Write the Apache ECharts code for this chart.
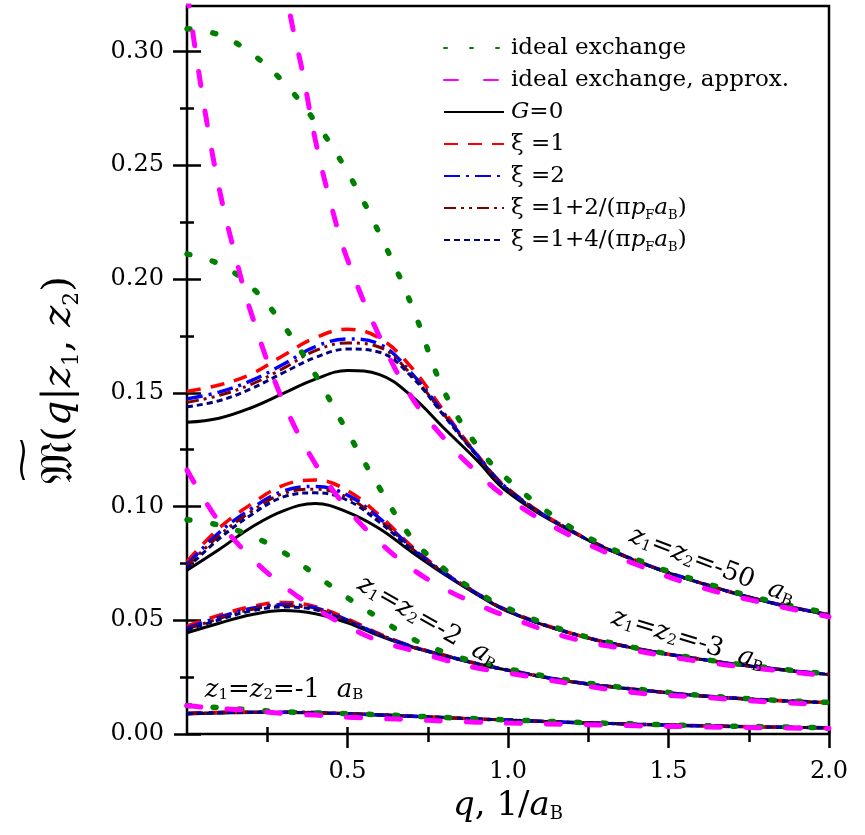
<!DOCTYPE html>
<html>
<head>
<meta charset="utf-8">
<script src="https://cdn.jsdelivr.net/npm/echarts@6/dist/echarts.min.js"></script>
<style>
html,body{margin:0;padding:0;background:#fff;}
#chart{width:865px;height:835px;}
</style>
</head>
<body>
<div id="chart"></div>
<script>
// q grid shared by the G=0 / xi curves and the ideal-exchange curves
var qGrid = [0, 0.1, 0.2, 0.3, 0.4, 0.5, 0.6, 0.7, 0.8, 0.9, 1.0, 1.2, 1.4, 1.6, 1.8, 2.0];

// z1=z2=-50 aB
var g0_50    = [0.1370, 0.1388, 0.1434, 0.1497, 0.1560, 0.1598, 0.1580, 0.1485, 0.1345, 0.1208, 0.1062, 0.0888, 0.0760, 0.0663, 0.0583, 0.0523];
var xi1_50   = [0.1506, 0.1534, 0.1582, 0.1664, 0.1742, 0.1779, 0.1740, 0.1610, 0.1420, 0.1235, 0.1078, 0.0892, 0.0762, 0.0664, 0.0584, 0.0524];
var xi2_50   = [0.1473, 0.1503, 0.1553, 0.1625, 0.1703, 0.1736, 0.1713, 0.1585, 0.1410, 0.1232, 0.1076, 0.0891, 0.0762, 0.0664, 0.0584, 0.0524];
var xiA_50   = [0.1458, 0.1488, 0.1537, 0.1607, 0.1685, 0.1719, 0.1700, 0.1578, 0.1405, 0.1230, 0.1075, 0.0891, 0.0761, 0.0664, 0.0584, 0.0524];
var xiB_50   = [0.1438, 0.1465, 0.1518, 0.1588, 0.1655, 0.1692, 0.1678, 0.1570, 0.1400, 0.1228, 0.1074, 0.0890, 0.0761, 0.0664, 0.0584, 0.0524];
var ideal_50 = [0.3100, 0.3073, 0.2992, 0.2866, 0.2690, 0.2470, 0.2198, 0.1884, 0.1510, 0.1274, 0.1118, 0.0905, 0.0768, 0.0670, 0.0590, 0.0532];
var approxQ_50 = [0.30, 0.33, 0.36, 0.40, 0.45, 0.50, 0.60, 0.70, 0.80, 0.90, 1.00, 1.20, 1.40, 1.60, 1.80, 2.00];
var approx_50  = [0.333, 0.310, 0.291, 0.261, 0.232, 0.2085, 0.1746, 0.1480, 0.1300, 0.1155, 0.1035, 0.0868, 0.0745, 0.0645, 0.0575, 0.0515];

// z1=z2=-3 aB
var g0_3    = [0.0720, 0.0811, 0.0908, 0.0981, 0.1013, 0.0975, 0.0902, 0.0800, 0.0703, 0.0616, 0.0538, 0.0440, 0.0375, 0.0328, 0.0290, 0.0261];
var xi1_3   = [0.0758, 0.0905, 0.1010, 0.1093, 0.1117, 0.1070, 0.0960, 0.0825, 0.0712, 0.0622, 0.0542, 0.0442, 0.0376, 0.0329, 0.0291, 0.0262];
var xi2_3   = [0.0745, 0.0885, 0.0990, 0.1068, 0.1088, 0.1050, 0.0948, 0.0820, 0.0710, 0.0621, 0.0541, 0.0442, 0.0376, 0.0329, 0.0291, 0.0262];
var xiA_3   = [0.0738, 0.0872, 0.0978, 0.1057, 0.1076, 0.1040, 0.0940, 0.0816, 0.0708, 0.0620, 0.0540, 0.0441, 0.0376, 0.0329, 0.0291, 0.0262];
var xiB_3   = [0.0728, 0.0858, 0.0963, 0.1042, 0.1060, 0.1027, 0.0930, 0.0812, 0.0707, 0.0619, 0.0540, 0.0441, 0.0376, 0.0329, 0.0291, 0.0262];
var ideal_3 = [0.2110, 0.2066, 0.1966, 0.1797, 0.1579, 0.1327, 0.1081, 0.0862, 0.0727, 0.0628, 0.0552, 0.0445, 0.0378, 0.0330, 0.0293, 0.0264];
var approxQ_3 = [0, 0.05, 0.1, 0.15, 0.2, 0.3, 0.4, 0.5, 0.6, 0.7, 0.8, 0.9, 1.0, 1.2, 1.4, 1.6, 1.8, 2.0];
var approx_3  = [0.326, 0.279, 0.240, 0.2105, 0.185, 0.146, 0.1187, 0.099, 0.0843, 0.0727, 0.064, 0.0573, 0.0515, 0.0420, 0.0366, 0.0318, 0.0285, 0.0255];

// z1=z2=-2 aB
var g0_2    = [0.0445, 0.0487, 0.0524, 0.0543, 0.0529, 0.0489, 0.0431, 0.0382, 0.0345, 0.0310, 0.0280, 0.0229, 0.0195, 0.0167, 0.0149, 0.0137];
var xi1_2   = [0.0474, 0.0522, 0.0560, 0.0578, 0.0560, 0.0506, 0.0440, 0.0386, 0.0347, 0.0311, 0.0281, 0.0230, 0.0196, 0.0168, 0.0150, 0.0138];
var xi2_2   = [0.0466, 0.0513, 0.0552, 0.0569, 0.0554, 0.0501, 0.0437, 0.0385, 0.0346, 0.0311, 0.0281, 0.0230, 0.0196, 0.0168, 0.0150, 0.0138];
var xiA_2   = [0.0461, 0.0507, 0.0547, 0.0564, 0.0550, 0.0499, 0.0436, 0.0384, 0.0346, 0.0310, 0.0280, 0.0230, 0.0196, 0.0168, 0.0150, 0.0138];
var xiB_2   = [0.0457, 0.0502, 0.0541, 0.0558, 0.0546, 0.0497, 0.0435, 0.0384, 0.0345, 0.0310, 0.0280, 0.0230, 0.0196, 0.0168, 0.0150, 0.0138];
var ideal_2 = [0.0942, 0.0918, 0.0871, 0.0799, 0.0700, 0.0599, 0.0508, 0.0420, 0.0360, 0.0316, 0.0286, 0.0234, 0.0198, 0.0170, 0.0151, 0.0139];
var approxQ_2 = [0, 0.05, 0.1, 0.2, 0.3, 0.4, 0.5, 0.6, 0.7, 0.8, 0.9, 1.0, 1.2, 1.4, 1.6, 1.8, 2.0];
var approx_2  = [0.116, 0.104, 0.0934, 0.0775, 0.0652, 0.0553, 0.0473, 0.0408, 0.0368, 0.0327, 0.0291, 0.0268, 0.0221, 0.0181, 0.0162, 0.0142, 0.0129];

// z1=z2=-1 aB
var g0_1    = [0.0088, 0.0092, 0.0095, 0.0095, 0.0093, 0.0089, 0.0084, 0.0078, 0.0072, 0.0066, 0.0061, 0.0051, 0.0043, 0.0036, 0.0031, 0.0027];
var xi1_1   = [0.0091, 0.0095, 0.0097, 0.0097, 0.0094, 0.0090, 0.0084, 0.0078, 0.0072, 0.0066, 0.0061, 0.0051, 0.0043, 0.0036, 0.0031, 0.0027];
var xi2_1   = [0.0090, 0.0094, 0.0096, 0.0096, 0.0094, 0.0089, 0.0084, 0.0078, 0.0072, 0.0066, 0.0061, 0.0051, 0.0043, 0.0036, 0.0031, 0.0027];
var xiA_1   = [0.0090, 0.0094, 0.0096, 0.0096, 0.0093, 0.0089, 0.0084, 0.0078, 0.0072, 0.0066, 0.0061, 0.0051, 0.0043, 0.0036, 0.0031, 0.0027];
var xiB_1   = [0.0089, 0.0093, 0.0096, 0.0095, 0.0093, 0.0089, 0.0084, 0.0078, 0.0072, 0.0066, 0.0061, 0.0051, 0.0043, 0.0036, 0.0031, 0.0027];
var ideal_1 = [0.0125, 0.0116, 0.0106, 0.0098, 0.0093, 0.0089, 0.0085, 0.0079, 0.0073, 0.0067, 0.0062, 0.0052, 0.0044, 0.0037, 0.0032, 0.0028];
var approx_1 = [0.0125, 0.0112, 0.0103, 0.0090, 0.0083, 0.0074, 0.0068, 0.0063, 0.0057, 0.0052, 0.0048, 0.0042, 0.0036, 0.0031, 0.0027, 0.0024];

// ticks
var xMajorBottom = [0.5, 1.0, 1.5, 2.0];
var xMajorTop = [0.5, 1.0, 1.5];
var xMinor = [0.25, 0.75, 1.25, 1.75];
var xLabels = [0.5, 1.0, 1.5, 2.0];
var yMajor = [0, 0.05, 0.10, 0.15, 0.20, 0.25, 0.30];
var yMajorRight = [0.05, 0.10, 0.15, 0.20, 0.25, 0.30];
var yMinor = [0.025, 0.075, 0.125, 0.175, 0.225, 0.275];

var FONT = 'DejaVu Serif';

var legendText = {
  ideal: 'ideal exchange',
  approx: 'ideal exchange, approx.',
  G0: '{i|G}=0',
  xi1: 'ξ =1',
  xi2: 'ξ =2',
  xiA: 'ξ =1+2/(π{i|p}{s|F}{i|a}{s|B})',
  xiB: 'ξ =1+4/(π{i|p}{s|F}{i|a}{s|B})'
};

var styles = {
  G0:     {color: '#000000', width: 3, type: 'solid'},
  xi1:    {color: '#ff0000', width: 3.5, type: [14, 10]},
  xi2:    {color: '#0000ff', width: 3.5, type: [16, 6, 3, 6]},
  xiA:    {color: '#800000', width: 3, type: [12, 5, 3, 5, 3, 5]},
  xiB:    {color: '#000080', width: 3, type: [6, 4]},
  ideal:  {color: '#008000', width: 5.5, type: [3, 23], cap: 'round'},
  approx: {color: '#ff00ff', width: 5, type: [14, 26], cap: 'round'}
};

function pairs(q, v) {
  return q.map(function (x, i) { return [x, v[i]]; });
}

function line(name, q, v) {
  return {
    type: 'line',
    name: name,
    data: pairs(q, v),
    symbol: 'none',
    smooth: 0.4,
    clip: true,
    silent: true,
    color: styles[name].color,
    lineStyle: styles[name]
  };
}

var groups = [
  {g0: g0_50, xi1: xi1_50, xi2: xi2_50, xiA: xiA_50, xiB: xiB_50, ideal: ideal_50, aq: approxQ_50, approx: approx_50},
  {g0: g0_3, xi1: xi1_3, xi2: xi2_3, xiA: xiA_3, xiB: xiB_3, ideal: ideal_3, aq: approxQ_3, approx: approx_3},
  {g0: g0_2, xi1: xi1_2, xi2: xi2_2, xiA: xiA_2, xiB: xiB_2, ideal: ideal_2, aq: approxQ_2, approx: approx_2},
  {g0: g0_1, xi1: xi1_1, xi2: xi2_1, xiA: xiA_1, xiB: xiB_1, ideal: ideal_1, aq: qGrid, approx: approx_1}
];

var series = [];
groups.forEach(function (g) {
  series.push(line('G0', qGrid, g.g0));
  series.push(line('xi1', qGrid, g.xi1));
  series.push(line('xi2', qGrid, g.xi2));
  series.push(line('xiA', qGrid, g.xiA));
  series.push(line('xiB', qGrid, g.xiB));
  series.push(line('ideal', qGrid, g.ideal));
  series.push(line('approx', g.aq, g.approx));
});

var tickLine = {color: '#000', width: 2.5};
var noLine = {show: false};

function xAx(pos, offset, len, inside, vals, label) {
  return {
    type: 'value', min: 0, max: 2, position: pos, offset: offset,
    axisLine: noLine, splitLine: {show: false},
    axisTick: {show: true, inside: inside, length: len, customValues: vals, lineStyle: tickLine},
    axisLabel: label || {show: false}
  };
}
function yAx(pos, offset, len, inside, vals, label) {
  return {
    type: 'value', min: 0, max: 0.32, position: pos, offset: offset,
    axisLine: noLine, splitLine: {show: false},
    axisTick: {show: true, inside: inside, length: len, customValues: vals, lineStyle: tickLine},
    axisLabel: label || {show: false}
  };
}

var xBottom = xAx('bottom', -7, 21, false, xMajorBottom, {
  customValues: xLabels, margin: 33, fontFamily: FONT, fontSize: 24, color: '#000',
  formatter: function (v) { return v.toFixed(1); }
});
xBottom.name = '{i|q}{n|, 1/}{i|a}{s|B}';
xBottom.nameLocation = 'middle';
xBottom.nameGap = 58;
xBottom.nameTextStyle = {
  fontFamily: FONT, fontSize: 34, color: '#000',
  rich: {
    n: {fontFamily: FONT, fontSize: 34},
    i: {fontFamily: FONT, fontSize: 34, fontStyle: 'italic'},
    s: {fontFamily: FONT, fontSize: 18, verticalAlign: 'bottom', lineHeight: 14}
  }
};

var labelRich = {
  n: {fontFamily: FONT, fontSize: 26, color: '#000'},
  i: {fontFamily: FONT, fontSize: 26, fontStyle: 'italic', color: '#000'},
  s: {fontFamily: FONT, fontSize: 15, verticalAlign: 'bottom', lineHeight: 12, color: '#000'}
};

function zLabel(txt, x, y, deg) {
  return {
    type: 'text', x: x, y: y, rotation: deg * Math.PI / 180, silent: true, z: 10,
    style: {
      text: '{i|z}{s|1}{n|=}{i|z}{s|2}{n|=' + txt + '  }{i|a}{s|B}',
      rich: labelRich, align: 'center', verticalAlign: 'middle'
    }
  };
}

var option = {
  animation: false,
  backgroundColor: '#fff',
  grid: {left: 187, top: 6, width: 642, height: 728, show: true, borderColor: '#000', borderWidth: 2.5},
  xAxis: [
    xBottom,
    xAx('bottom', -7, 14, false, xMinor),
    xAx('top', 0, 14, true, xMajorTop),
    xAx('top', 0, 8, true, xMinor)
  ],
  yAxis: [
    yAx('left', -14, 27, false, yMajor, {
      customValues: yMajor, margin: 37, fontFamily: FONT, fontSize: 24, color: '#000',
      formatter: function (v) { return v.toFixed(2); }
    }),
    yAx('left', -7, 14, false, yMinor),
    yAx('right', 0, 14, true, yMajorRight),
    yAx('right', 0, 7, true, yMinor)
  ],
  legend: {
    orient: 'vertical', left: 438, top: 29,
    itemWidth: 60, itemHeight: 14, itemGap: 4,
    itemStyle: {opacity: 0},
    data: ['ideal', 'approx', 'G0', 'xi1', 'xi2', 'xiA', 'xiB'],
    formatter: function (name) { return legendText[name]; },
    textStyle: {
      fontFamily: FONT, fontSize: 23, color: '#000', lineHeight: 28, padding: [0, 0, 0, 2],
      rich: {
        i: {fontFamily: FONT, fontSize: 23, fontStyle: 'italic', lineHeight: 28},
        s: {fontFamily: FONT, fontSize: 13, verticalAlign: 'bottom', lineHeight: 22}
      }
    }
  },
  graphic: [
    zLabel('-50', 712, 566, -21),
    zLabel('-3', 688, 640, -17),
    zLabel('-2', 428, 622, -30),
    zLabel('-1', 284, 690, 0),
    {
      type: 'text', x: 60, y: 380, rotation: Math.PI / 2, silent: true,
      style: {
        text: '{fr|𝔐}{n|(}{i|q}{n||}{i|z}{s|1}{n|, }{i|z}{s|2}{n|)}',
        align: 'center', verticalAlign: 'middle',
        rich: {
          fr: {fontFamily: 'DejaVu Sans', fontSize: 46, color: '#000'},
          n: {fontFamily: FONT, fontSize: 40, color: '#000'},
          i: {fontFamily: FONT, fontSize: 40, fontStyle: 'italic', color: '#000'},
          s: {fontFamily: FONT, fontSize: 22, verticalAlign: 'bottom', lineHeight: 22, color: '#000'}
        }
      }
    },
    {
      type: 'text', x: 25, y: 460, rotation: Math.PI / 2, scaleX: 1.6, scaleY: 0.8, silent: true,
      style: {text: '~', fontFamily: FONT, fontSize: 40, fill: '#000', align: 'center', verticalAlign: 'middle'}
    }
  ],
  series: series
};

var myChart = echarts.init(document.getElementById('chart'), null, {renderer: 'canvas'});
myChart.setOption(option);
</script>
</body>
</html>
